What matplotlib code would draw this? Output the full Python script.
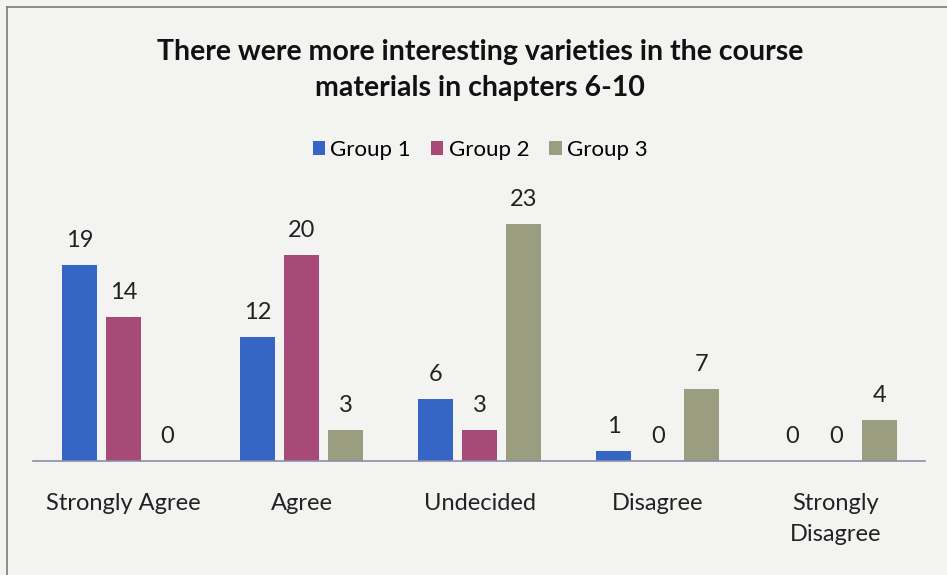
import numpy as np
import matplotlib.pyplot as plt
from matplotlib.lines import Line2D

categories = ["Strongly Agree", "Agree", "Undecided", "Disagree", "Strongly\nDisagree"]
group1 = [19, 12, 6, 1, 0]
group2 = [14, 20, 3, 0, 0]
group3 = [0, 3, 23, 7, 4]
groups = ["Group 1", "Group 2", "Group 3"]
colors = ["#3566c6", "#a84a78", "#9a9d80"]

plt.rcParams['font.family'] = ['Lato', 'DejaVu Sans']

fig = plt.figure(figsize=(9.47, 5.75), dpi=100)
fig.patch.set_facecolor("#f3f3f1")

# frame of the scanned chart box
fig.add_artist(Line2D([7/947, 7/947], [0, 1 - 7/575], color="#7a7a7a", lw=1.2))
fig.add_artist(Line2D([7/947, 1], [1 - 7/575, 1 - 7/575], color="#7a7a7a", lw=1.2))

ax = fig.add_axes([33/947, 114/575, 892/947, 257.6/575])
ax.set_facecolor("none")

x = np.arange(len(categories))
w = 0.196
off = 0.247
for i, (vals, c, g) in enumerate(zip([group1, group2, group3], colors, groups)):
    bars = ax.bar(x + (i - 1) * off, vals, w, color=c, label=g)
    for b, v in zip(bars, vals):
        ax.annotate(str(v), (b.get_x() + b.get_width() / 2, v),
                    xytext=(0, 10), textcoords="offset points",
                    ha="center", va="bottom", fontsize=17, color="#222222")

ax.set_xlim(-0.507, 4.5)
ax.set_ylim(0, 25)
ax.set_xticks(x)
ax.set_xticklabels(categories, fontsize=17, color="#222222", linespacing=1.6)
ax.tick_params(axis="x", length=0, pad=23)
ax.set_yticks([])
for s in ["top", "right", "left"]:
    ax.spines[s].set_visible(False)
ax.spines["bottom"].set_color("#8a8ea8")
ax.spines["bottom"].set_linewidth(1.2)

fig.text(0.507, 1 - 70/575, "There were more interesting varieties in the course\nmaterials in chapters 6-10",
         ha="center", va="center", fontsize=20.5, fontweight="bold", color="#111111", linespacing=1.5)

fig.legend(loc="center", bbox_to_anchor=(0.507, 1 - 150/575), ncol=3, frameon=False,
           fontsize=16, handlelength=0.55, handleheight=0.55, handletextpad=0.25, columnspacing=0.9)

fig.savefig("out.png", dpi=100, facecolor=fig.get_facecolor())
plt.close(fig)
